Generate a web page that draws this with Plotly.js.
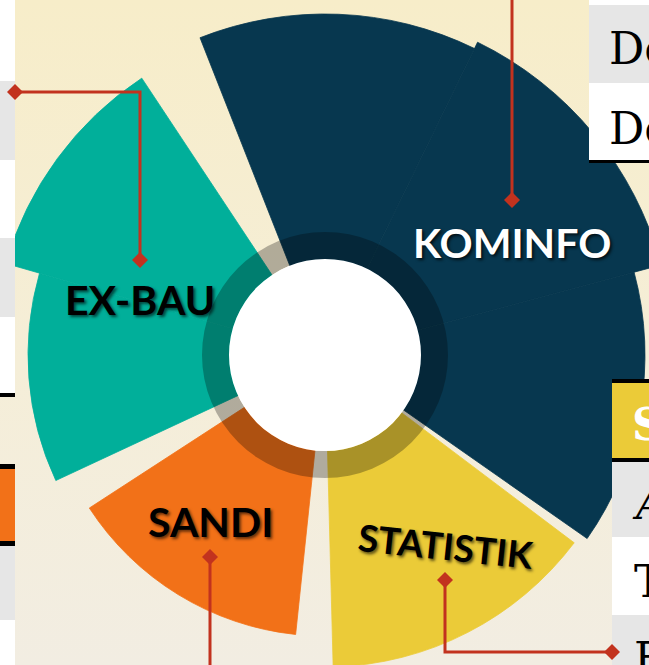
<!DOCTYPE html>
<html>
<head>
<meta charset="utf-8">
<script src="https://cdn.plot.ly/plotly-3.0.1.min.js"></script>
<style>
html,body{margin:0;padding:0;width:649px;height:665px;overflow:hidden;
 background:linear-gradient(to bottom,#F7EDC9 0%,#F5EED8 55%,#F2EDE2 100%);}
#chart{position:absolute;left:-55px;top:-25px;width:760px;height:760px;}
</style>
</head>
<body>
<div id="chart"></div>
<script>
// ---- data ----
const segments   = ['KOMINFO','KOMINFO','KOMINFO','STATISTIK','SANDI','EX-BAU','EX-BAU'];
const radii      = [341, 348, 320, 312, 281, 297, 332];
const thetaStart = [-21.5, 26, 75, 127, 186, 245, 286];
const thetaEnd   = [26, 75, 125, 178.5, 237, 286, 326.5];
const labels     = ['KOMINFO','EX-BAU','SANDI','STATISTIK'];
const tableTopRight = ['De','De'];
const tableBottomRight = ['S','A','T','F'];

// ---- styles ----
const colors = {KOMINFO:'#07374F', STATISTIK:'#EBCB38', SANDI:'#F27118', 'EX-BAU':'#01AF9A'};
const RED = '#C2321E';

const L=-55, T=-25, W=760, H=760;
const X = p => (p - L)/W;
const Y = p => 1 - (p - T)/H;

const traces = [];
segments.forEach((s,i)=>{
  traces.push({
    type:'barpolar', r:[radii[i]], theta:[(thetaStart[i]+thetaEnd[i])/2],
    width:[thetaEnd[i]-thetaStart[i]], base:[0],
    marker:{color:colors[s], line:{width:0.8, color:colors[s]}}, hoverinfo:'skip', showlegend:false
  });
});
// dark translucent ring and white centre
traces.push({type:'barpolar', r:[27], base:[96], theta:[0], width:[360],
  marker:{color:'rgba(0,0,0,0.28)', line:{width:0}}, hoverinfo:'skip', showlegend:false});
traces.push({type:'barpolar', r:[96], base:[0], theta:[0], width:[360],
  marker:{color:'#FFFFFF', line:{width:0}}, hoverinfo:'skip', showlegend:false});

const shapes = [];
function rect(x0,y0,x1,y1,c){shapes.push({type:'rect',xref:'paper',yref:'paper',layer:'above',
  x0:X(x0),x1:X(x1),y0:Y(y1),y1:Y(y0),fillcolor:c,line:{width:0}});}
// left strip
rect(0,0,15,81,'#FFFFFF'); rect(0,81,15,160,'#E6E6E6'); rect(0,160,15,238,'#FFFFFF');
rect(0,238,15,317,'#E6E6E6'); rect(0,317,15,393,'#FFFFFF'); rect(0,393,15,397,'#000000');
rect(0,464,15,469,'#000000'); rect(0,469,15,541,'#F27118'); rect(0,541,15,546,'#000000');
rect(0,546,15,620,'#E6E6E6'); rect(0,620,15,665,'#FFFFFF');
// top right table
rect(589,0,649,5,'#FFFFFF'); rect(589,5,649,83,'#E6E6E6'); rect(589,83,649,160,'#FFFFFF');
rect(589,160,649,163,'#000000');
// bottom right table
rect(612,379,649,383,'#000000'); rect(612,383,649,458,'#EBCB38'); rect(612,458,649,462,'#000000');
rect(612,462,649,537,'#E6E6E6'); rect(612,537,649,615,'#FFFFFF'); rect(612,615,649,665,'#E6E6E6');

function poly(pts){
  const d = pts.map((p,i)=>(i?'L':'M')+X(p[0])+','+Y(p[1])).join(' ');
  shapes.push({type:'path',xref:'paper',yref:'paper',layer:'above',path:d,line:{color:RED,width:3}});
}
function diamond(x,y){
  const s=8;
  const d='M'+X(x)+','+Y(y-s)+' L'+X(x+s)+','+Y(y)+' L'+X(x)+','+Y(y+s)+' L'+X(x-s)+','+Y(y)+' Z';
  shapes.push({type:'path',xref:'paper',yref:'paper',layer:'above',path:d,fillcolor:RED,line:{width:0}});
}
poly([[15,92],[140,92],[140,260]]); diamond(15,92); diamond(140,260);
poly([[512,-5],[512,200]]); diamond(512,200);
poly([[210,557],[210,670]]); diamond(210,557);
poly([[445,580],[445,652],[612,652]]); diamond(445,580); diamond(612,652);

const labFont = {family:'Lato, "Open Sans", sans-serif', size:41, weight:700};
const sh = '2px 2px 3px rgba(0,0,0,0.6)';
const annotations = [
  {text:labels[0], x:X(512), y:Y(242), font:Object.assign({},labFont,{color:'#FFFFFF',shadow:'2px 2px 3px rgba(0,0,0,0.7)'})},
  {text:labels[1], x:X(140), y:Y(300), font:Object.assign({},labFont,{color:'#000000',shadow:sh})},
  {text:labels[2], x:X(210), y:Y(521), font:Object.assign({},labFont,{color:'#000000',shadow:sh})},
  {text:labels[3], x:X(446), y:Y(545), textangle:6, font:Object.assign({},labFont,{size:37,color:'#000000',shadow:sh})},
].map(a=>Object.assign({xref:'paper',yref:'paper',showarrow:false,xanchor:'center',yanchor:'middle'},a));

const serif = {family:'"DejaVu Serif", serif', size:44, color:'#000000'};
annotations.push({text:tableTopRight[0], x:X(607), y:Y(48), font:serif});
annotations.push({text:tableTopRight[1], x:X(607), y:Y(128), font:serif});
annotations.push({text:'<b>'+tableBottomRight[0]+'</b>', x:X(630), y:Y(424), font:Object.assign({},serif,{color:'#FFFFFF'})});
annotations.push({text:'<i>'+tableBottomRight[1]+'</i>', x:X(630), y:Y(503), font:serif});
annotations.push({text:tableBottomRight[2], x:X(632), y:Y(581), font:serif});
annotations.push({text:tableBottomRight[3], x:X(632), y:Y(658), font:serif});
annotations.slice(4).forEach(a=>Object.assign(a,{xref:'paper',yref:'paper',showarrow:false,xanchor:'left',yanchor:'middle'}));

const layout = {
  width:760, height:760, margin:{l:0,r:0,t:0,b:0},
  paper_bgcolor:'rgba(0,0,0,0)', plot_bgcolor:'rgba(0,0,0,0)',
  showlegend:false, bargap:0,
  polar:{
    domain:{x:[0,1],y:[0,1]}, bgcolor:'rgba(0,0,0,0)', barmode:'overlay',
    radialaxis:{range:[0,380], visible:false, showgrid:false, showline:false, showticklabels:false, ticks:''},
    angularaxis:{rotation:90, direction:'clockwise', visible:false, showgrid:false, showline:false, showticklabels:false, ticks:''}
  },
  shapes:shapes, annotations:annotations
};
Plotly.newPlot('chart', traces, layout, {displayModeBar:false, staticPlot:true});
</script>
</body>
</html>
